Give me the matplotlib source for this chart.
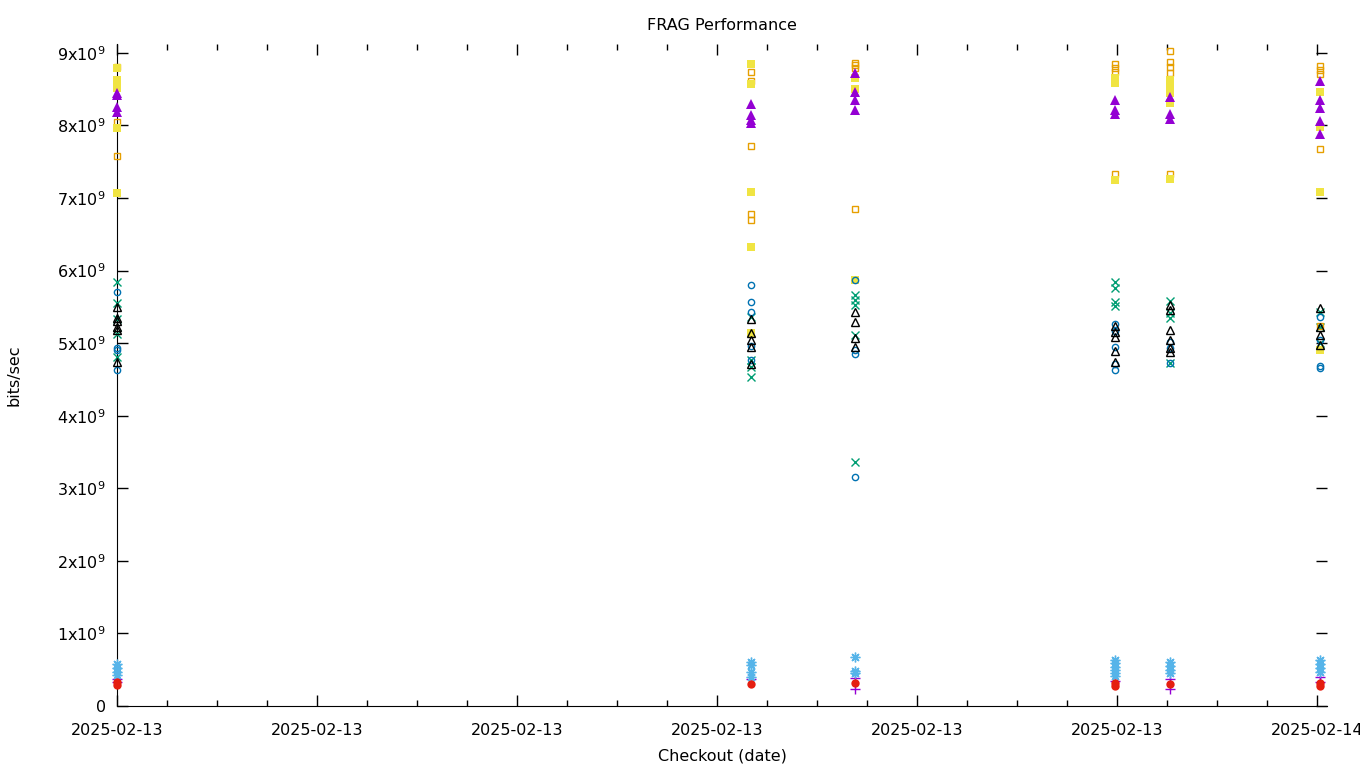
import numpy as np
import matplotlib
matplotlib.use('Agg')
import matplotlib.pyplot as plt

# checkout times, hours after 2025-02-13 00:00
checkout_hours = [0.0, 12.68, 14.76, 19.96, 21.06, 24.06]

# values per checkout, in units of 1e9 bits/sec
plus_purple = [[0.37, 0.33], [0.37], [0.38, 0.23], [0.34], [0.37, 0.23], [0.40, 0.33]]
cross_green = [[5.84, 5.55, 5.33, 5.13, 4.81], [5.36, 4.77, 4.67, 4.53],
               [5.66, 5.60, 5.53, 5.11, 3.36], [5.84, 5.76, 5.57, 5.51],
               [5.58, 5.42, 5.35, 4.73], [5.43, 5.22, 5.00]]
star_lightblue = [[0.58, 0.52, 0.47, 0.43], [0.60, 0.57, 0.47, 0.40], [0.67, 0.48, 0.45],
                  [0.63, 0.59, 0.54, 0.50, 0.45, 0.41], [0.60, 0.55, 0.50, 0.45],
                  [0.63, 0.58, 0.52, 0.47]]
square_orange = [[8.81, 8.05, 7.58], [8.74, 8.61, 7.72, 6.78, 6.70], [8.86, 8.83, 8.79, 6.85],
                 [8.85, 8.79, 8.74, 7.33], [9.03, 8.88, 8.81, 8.72, 7.33],
                 [8.82, 8.77, 8.71, 7.68, 5.24]]
fsquare_yellow = [[8.79, 8.63, 8.52, 7.97, 7.07], [8.85, 8.57, 7.08, 6.33, 5.14],
                  [8.66, 8.50, 5.87], [8.66, 8.58, 7.25], [8.63, 8.54, 8.45, 8.31, 7.26],
                  [8.46, 7.98, 7.08, 4.91]]
circle_blue = [[5.71, 4.93, 4.90, 4.63], [5.80, 5.57, 5.43, 4.96, 4.77], [5.87, 4.91, 4.85, 3.16],
               [5.26, 5.17, 4.95, 4.71, 4.63], [5.02, 4.93, 4.73], [5.36, 5.04, 4.69, 4.66]]
fcircle_red = [[0.33, 0.29], [0.30], [0.32], [0.32, 0.28], [0.30], [0.32, 0.28]]
triangle_black = [[5.50, 5.35, 5.30, 5.22, 5.18, 4.74], [5.33, 5.14, 5.04, 4.95, 4.71],
                  [5.43, 5.29, 5.07, 4.95], [5.24, 5.15, 5.08, 4.89, 4.74],
                  [5.53, 5.46, 5.18, 5.04, 4.93, 4.88], [5.49, 5.22, 5.11, 4.98]]
ftriangle_purple = [[8.45, 8.42, 8.25, 8.18], [8.30, 8.15, 8.07, 8.04], [8.72, 8.46, 8.35, 8.21],
                    [8.35, 8.21, 8.16], [8.39, 8.16, 8.09], [8.61, 8.35, 8.24, 8.06, 7.88]]

x_tick_hours = [0, 4, 8, 12, 16, 20, 24]
x_tick_labels = ['2025-02-13'] * 6 + ['2025-02-14']


def flatten(series):
    xs, ys = [], []
    for h, vals in zip(checkout_hours, series):
        xs += [h] * len(vals)
        ys += [v * 1e9 for v in vals]
    return xs, ys


def main():
    fig = plt.figure(figsize=(13.6, 7.68), dpi=100)
    ax = fig.add_axes([117 / 1360, 62 / 768, 1210 / 1360, 662 / 768])

    # gnuplot style point types, drawn in series order
    styles = [
        (plus_purple, dict(marker='+', color='#9400d3', ms=7, mew=1.0, ls='none')),
        (cross_green, dict(marker='x', color='#009e73', ms=6, mew=1.0, ls='none')),
        (star_lightblue, dict(marker=(8, 2, 0), color='#56b4e9', ms=7, mew=1.0, ls='none')),
        (square_orange, dict(marker='s', mfc='none', mec='#e69f00', ms=5, mew=1.0, ls='none')),
        (fsquare_yellow, dict(marker='s', color='#f0e442', ms=5.5, mew=0, ls='none')),
        (circle_blue, dict(marker='o', mfc='none', mec='#0072b2', ms=4.5, mew=1.0, ls='none')),
        (fcircle_red, dict(marker='o', color='#e51e10', ms=6, mew=0, ls='none')),
        (triangle_black, dict(marker='^', mfc='none', mec='black', ms=6, mew=1.0, ls='none')),
        (ftriangle_purple, dict(marker='^', color='#9400d3', ms=6.5, mew=0, ls='none')),
    ]
    for series, kw in styles:
        xs, ys = flatten(series)
        ax.plot(xs, ys, clip_on=False, zorder=3, **kw)

    ax.set_xlim(0, 24.2)
    ax.set_ylim(0, 9.123e9)

    ax.set_xticks(x_tick_hours)
    ax.set_xticklabels(x_tick_labels)
    ax.set_xticks(np.arange(0, 24.2, 1), minor=True)
    ax.set_yticks([i * 1e9 for i in range(10)])
    ax.set_yticklabels(['0'] + [f'{i}x10$^{{9}}$' for i in range(1, 10)])

    # border only on left and bottom, ticks mirrored inward
    ax.spines['top'].set_visible(False)
    ax.spines['right'].set_visible(False)
    ax.tick_params(which='both', direction='in', top=True, right=True, labelsize=11.5, width=1)
    ax.tick_params(which='major', length=8)
    ax.tick_params(axis='x', which='major', pad=12)
    ax.tick_params(axis='y', which='major', pad=8)
    ax.tick_params(which='minor', length=4)
    ax.tick_params(axis='y', which='minor', left=False, right=False)

    ax.set_title('FRAG Performance', fontsize=11.5, pad=10)
    ax.set_xlabel('Checkout (date)', fontsize=11.5, labelpad=8)
    ax.set_ylabel('bits/sec', fontsize=11.5, labelpad=26)

    fig.savefig('out.png', dpi=100)


if __name__ == "__main__":
    main()
